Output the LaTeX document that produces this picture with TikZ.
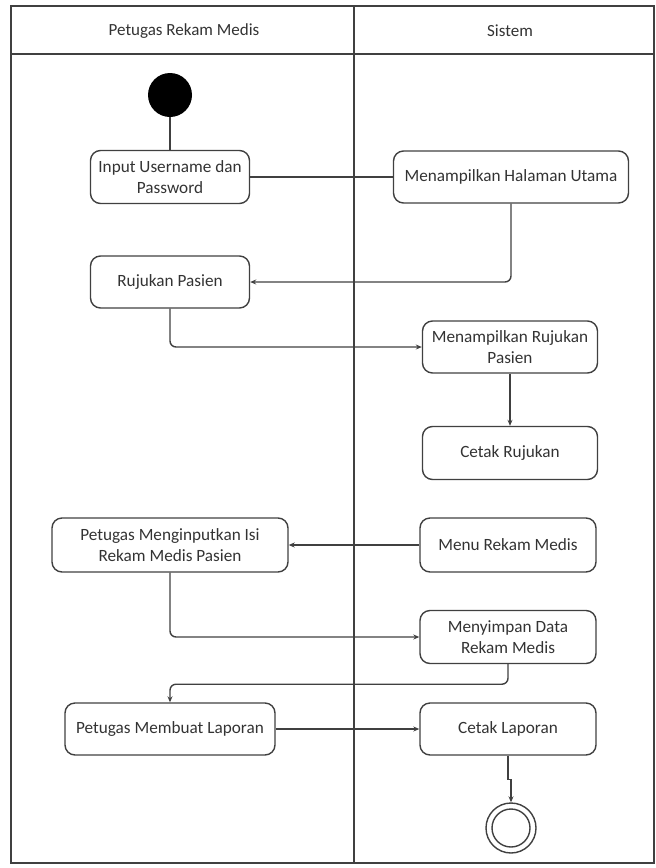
\documentclass[tikz,border=0pt]{standalone}
\usepackage{fontspec}
\setmainfont{Carlito}
\usetikzlibrary{arrows.meta}
\definecolor{ln}{HTML}{404040}
\definecolor{tx}{HTML}{333333}
\begin{document}
\begin{tikzpicture}[x=1pt,y=-1pt,
  act/.style={draw=ln,line width=1.4pt,rounded corners=10pt,align=center,
    font=\fontsize{17.2}{21}\selectfont,text=tx,inner sep=2pt},
  flow/.style={draw=ln,line width=1.4pt,rounded corners=6pt},
  arr/.style={flow,-{Stealth[length=6pt,width=5pt]}},
  hdr/.style={font=\fontsize{17}{20}\selectfont,text=tx}]
\useasboundingbox (0,0) rectangle (656,868);
% frame
\draw[ln,line width=1.4pt] (11,6) rectangle (654,863);
\draw[ln,line width=1.4pt] (11,54) -- (654,54);
\draw[ln,line width=1.4pt] (354,6) -- (354,863);
\node[hdr] (h1) at (184,31) {Petugas Rekam Medis};
\node[hdr] (h2) at (510,31) {Sistem};
% nodes
\node[circle,fill=black,minimum size=44pt,inner sep=0pt] (start) at (170,95) {};
\node[act,minimum width=159pt,minimum height=53pt] (inp) at (170,177) {Input Username dan\\Password};
\node[act,minimum width=235pt,minimum height=52pt] (mhu) at (511,177) {Menampilkan Halaman Utama};
\node[act,minimum width=159pt,minimum height=52pt] (rp) at (170,282) {Rujukan Pasien};
\node[act,minimum width=175pt,minimum height=52pt] (mrp) at (510,347) {Menampilkan Rujukan\\Pasien};
\node[act,minimum width=175pt,minimum height=53pt] (cr) at (510,453) {Cetak Rujukan};
\node[act,minimum width=176pt,minimum height=54pt] (mrm) at (508,545) {Menu Rekam Medis};
\node[act,minimum width=236pt,minimum height=54pt] (pmi) at (170,545) {Petugas Menginputkan Isi\\Rekam Medis Pasien};
\node[act,minimum width=176pt,minimum height=53pt] (mdr) at (508,637) {Menyimpan Data\\Rekam Medis};
\node[act,minimum width=210pt,minimum height=52pt] (pml) at (170,729) {Petugas Membuat Laporan};
\node[act,minimum width=176pt,minimum height=52pt] (cl) at (508,729) {Cetak Laporan};
\node[circle,draw=ln,line width=1.4pt,minimum size=50pt,inner sep=0pt] (end) at (511,828) {};
\node[circle,draw=ln,line width=1.4pt,minimum size=38pt,inner sep=0pt] (endin) at (511,828) {};
% connectors
\draw[flow] (start) -- (inp);
\draw[flow] (inp) -- (mhu);
\draw[arr] (mhu.south) |- (rp.east);
\draw[arr] (rp.south) |- (mrp.west);
\draw[arr] (mrp) -- (cr);
\draw[arr] (mrm) -- (pmi);
\draw[arr] (pmi.south) |- (mdr.west);
\draw[arr] (mdr.south) -- ++(0,20) -| (pml.north);
\draw[arr] (pml) -- (cl);
\draw[arr,rounded corners=0pt] (cl.south) -- ++(0,24) -| (end.north);
\end{tikzpicture}
\end{document}
